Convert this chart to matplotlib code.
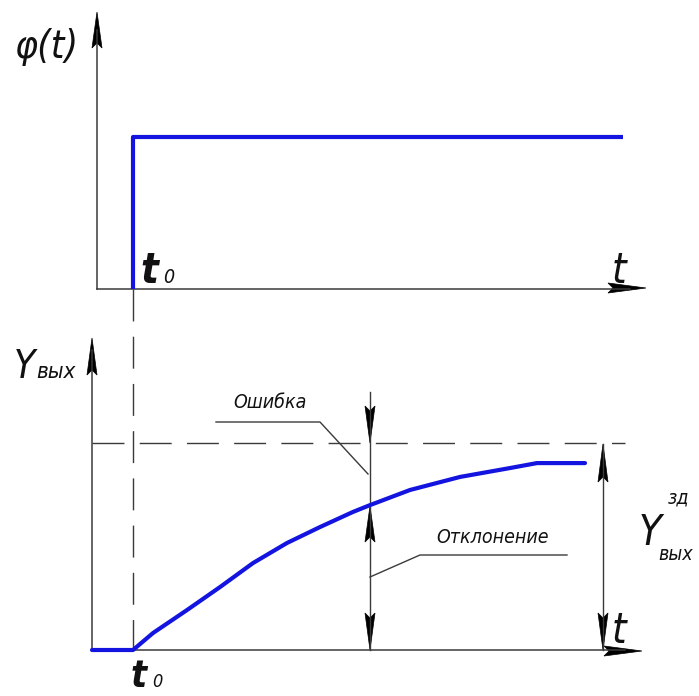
import matplotlib
matplotlib.use('Agg')
import matplotlib.pyplot as plt
from matplotlib.patches import Polygon

# input step phi(t): switches on at t0
t0 = 1.0
step_t = [t0, t0, 10.8]
step_y = [0.0, 1.0, 1.0]

# output response Y_out(t) (setpoint = 1.0)
resp_t = [0.18, 1.00, 1.40, 2.08, 2.74, 3.40, 4.08, 4.74, 5.40, 5.74,
          6.54, 7.54, 8.54, 9.08, 9.54, 10.04]
resp_y = [0.000, 0.000, 0.082, 0.193, 0.304, 0.420, 0.517, 0.594, 0.667, 0.700,
          0.773, 0.836, 0.879, 0.903, 0.903, 0.903]
setpoint = 1.0
setpoint_t = [0.18, 10.84]
t_mark = 5.74  # where error/deviation is shown

W, H = 699, 696
PX_PER_T = 50.0
T0_PX = 133
BLUE = '#1414e0'
INK = '#3a3a3a'
FONT = ['DejaVu Sans']

fig = plt.figure(figsize=(W / 100, H / 100), dpi=100)

# overlay in pixel coordinates for the drawing frame (axes, arrows, labels)
ov = fig.add_axes([0, 0, 1, 1])
ov.set_xlim(0, W)
ov.set_ylim(H, 0)
ov.axis('off')


def panel(x0, x1, ytop, ybot, y_px_per_unit):
    ax = fig.add_axes([x0 / W, 1 - ybot / H, (x1 - x0) / W, (ybot - ytop) / H])
    ax.set_xlim(t0 + (x0 - T0_PX) / PX_PER_T, t0 + (x1 - T0_PX) / PX_PER_T)
    ax.set_ylim(0, (ybot - ytop) / y_px_per_unit)
    ax.axis('off')
    ax.patch.set_alpha(0)
    return ax


def arrow_head(tip, direction, length=37, half=5, notch=5):
    x, y = tip
    dx, dy = direction
    px, py = -dy, dx
    bx, by = x - dx * length, y - dy * length
    pts = [(x, y),
           (bx + px * half, by + py * half),
           (bx + dx * notch, by + dy * notch),
           (bx - px * half, by - py * half)]
    ov.add_patch(Polygon(pts, closed=True, fc='black', ec='black', lw=0.5))


def label(x, y, s, size, weight='light'):
    ov.text(x, y, s, fontsize=size, style='italic', weight=weight,
            stretch='condensed', family=FONT, color='#111111',
            va='baseline', ha='left')


# ---- top panel: phi(t)
top = panel(97, 650, 12, 289, 152)
top.plot(step_t, step_y, color=BLUE, lw=3, solid_capstyle='butt', clip_on=False)

ov.plot([97, 97], [289, 30], color=INK, lw=1.1)
ov.plot([97, 630], [289, 289], color=INK, lw=1.1)
arrow_head((97, 12), (0, -1), length=36, half=5)
arrow_head((646, 288), (1, 0), length=38, half=5)

label(14, 58, 'φ(t)', 28)
label(140, 283, 't', 30, 'bold')
label(163, 283, '0', 14)
label(612, 283, 't', 30)

# ---- bottom panel: Y_out
bot = panel(92, 650, 338, 650, 207)
bot.plot(setpoint_t, [setpoint, setpoint], color=INK, lw=1.0,
         dashes=(23, 11), clip_on=False)
bot.plot(resp_t, resp_y, color=BLUE, lw=3, solid_capstyle='round', clip_on=False)

ov.plot([92, 92], [650, 350], color=INK, lw=1.1)
ov.plot([92, 625], [650, 650], color=INK, lw=1.1)
arrow_head((92, 338), (0, -1), length=37, half=5)
arrow_head((642, 651), (1, 0), length=38, half=5)

# t0 dashed guide linking both panels
ov.plot([T0_PX, T0_PX], [289, 650], color=INK, lw=1.0, dashes=(23, 11))

# error / deviation dimension at t_mark
xm = T0_PX + (t_mark - t0) * PX_PER_T
ov.plot([xm, xm], [392, 650], color=INK, lw=1.0)
arrow_head((xm, 443), (0, 1), length=37, half=5)
arrow_head((xm, 506), (0, -1), length=36, half=5)
arrow_head((xm, 650), (0, 1), length=37, half=5)

ov.plot([216, 320, xm - 2], [422, 422, 474], color=INK, lw=1.0)
label(233, 408, 'Ошибка', 14)
ov.plot([xm, 420, 567], [577, 555, 555], color=INK, lw=1.0)
label(436, 543, 'Отклонение', 14)

# setpoint dimension on the right
ov.plot([603, 603], [444, 650], color=INK, lw=1.0)
arrow_head((603, 444), (0, -1), length=38, half=5)
arrow_head((603, 650), (0, 1), length=37, half=5)

label(14, 378, 'Y', 28)
label(36, 378, 'вых', 16)
label(639, 545, 'Y', 30)
label(668, 503, 'зд', 14)
label(658, 560, 'вых', 14)
label(612, 643, 't', 30)
label(131, 687, 't', 27, 'bold')
label(152, 687, '0', 13)

fig.savefig('out.png', dpi=100)
